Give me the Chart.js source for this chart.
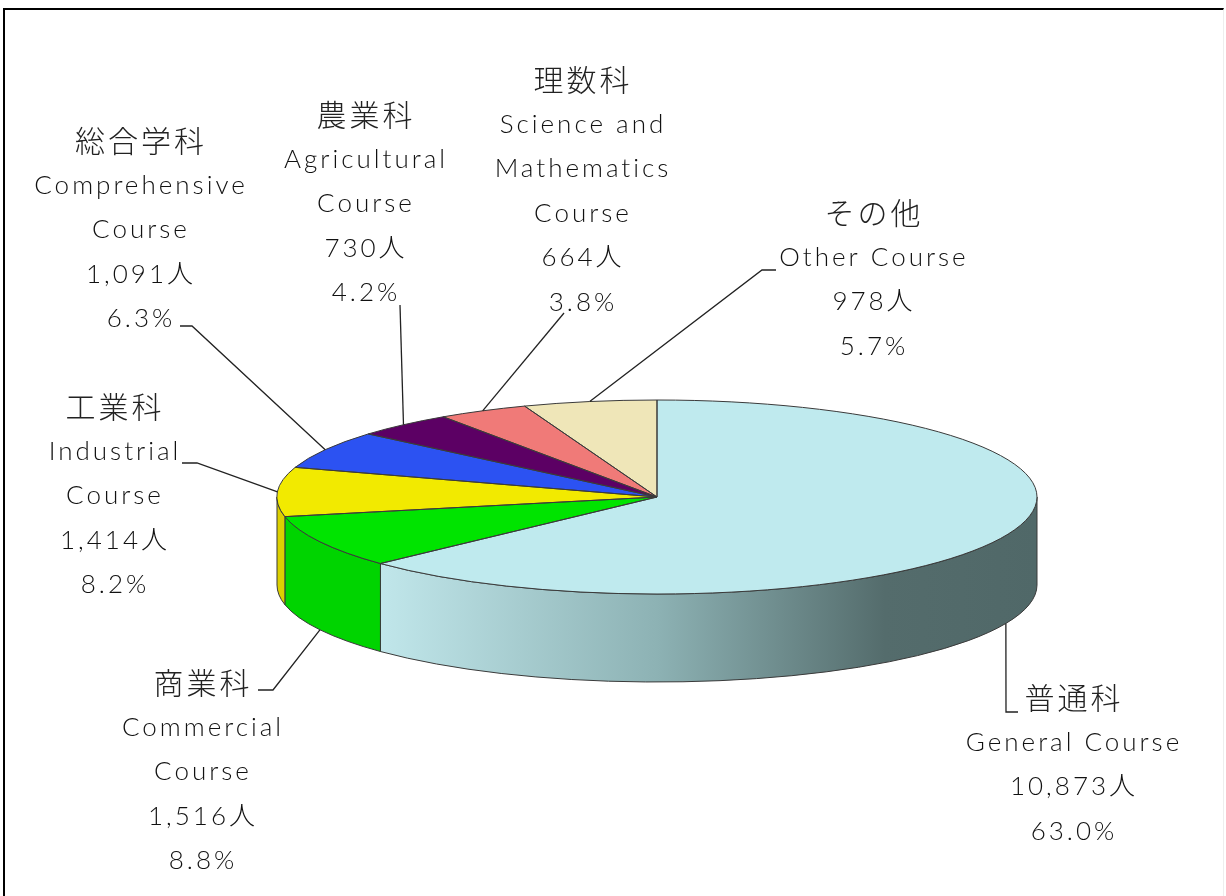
<!DOCTYPE html>
<html>
<head>
<meta charset="utf-8">
<script src="https://cdn.jsdelivr.net/npm/chart.js@4.4.0/dist/chart.umd.min.js"></script>
<style>
  body { margin: 0; background: #fff; overflow: hidden; }
  #frame { position: absolute; left: 3px; top: 8px; width: 1218px; height: 1100px;
           border-top: 2px solid #000; border-left: 2px solid #000; border-right: 1px solid #eee; }
  #chart { position: absolute; left: 0; top: 0; }
</style>
</head>
<body>
<div id="frame"></div>
<canvas id="chart" width="1226" height="896"></canvas>
<script>
// data, clockwise from 12 o'clock
const categoriesJa = ["普通科", "商業科", "工業科", "総合学科", "農業科", "理数科", "その他"];
const categoriesEn = [
  ["General Course"],
  ["Commercial", "Course"],
  ["Industrial", "Course"],
  ["Comprehensive", "Course"],
  ["Agricultural", "Course"],
  ["Science and", "Mathematics", "Course"],
  ["Other Course"]
];
const students = [10873, 1516, 1414, 1091, 730, 664, 978];

// styles
const topColors = ["#bfeaee", "#00e400", "#f2ea00", "#2c52f2", "#5c0064", "#f07a78", "#efe6b8"];
const sideColors = [null, "#00d400", "#dcd000", "#2040d0", "#4a0050", "#d06060", "#d8d0a0"];

// layout: label block (center x, first line y) and leader bend points
const labelPos = [[1074, 698], [203, 683], [115, 407], [141, 141], [366, 115], [583, 80], [874, 213]];
const leaderPts = [
  [[1006, 712], [1018, 712]],
  [[273, 690], [258, 690]],
  [[197, 463], [182, 463]],
  [[192, 326], [180, 326]],
  [[400, 305]],
  [[564, 313]],
  [[762, 270], [776, 270]]
];
const LINE_GAP = 44.5;
const CENTER_Y = 497;
const TILT = 97 / 380;
const DEPTH = 88;

const total = students.reduce((a, b) => a + b, 0);

const pie3d = {
  id: "pie3d",
  beforeDatasetsDraw(chart) {
    const ctx = chart.ctx;
    const arcs = chart.getDatasetMeta(0).data;
    const cx = arcs[0].x, r = arcs[0].outerRadius, ry = r * TILT;

    // side walls (front half only)
    arcs.forEach((arc, i) => {
      const s = Math.max(arc.startAngle, 0);
      const e = Math.min(arc.endAngle, Math.PI);
      if (e <= s) return;
      ctx.beginPath();
      ctx.ellipse(cx, CENTER_Y, r, ry, 0, s, e);
      ctx.lineTo(cx + r * Math.cos(e), CENTER_Y + DEPTH + ry * Math.sin(e));
      ctx.ellipse(cx, CENTER_Y + DEPTH, r, ry, 0, e, s, true);
      ctx.closePath();
      if (i === 0) {
        const g = ctx.createLinearGradient(cx - r, 0, cx + r, 0);
        g.addColorStop(0, "#c8ecee");
        g.addColorStop(0.14, "#c0e6ea");
        g.addColorStop(0.5, "#8db2b4");
        g.addColorStop(0.8, "#546c6c");
        g.addColorStop(1, "#506868");
        ctx.fillStyle = g;
      } else {
        ctx.fillStyle = sideColors[i];
      }
      ctx.fill();
      ctx.strokeStyle = "#3a3a3a";
      ctx.lineWidth = 1;
      ctx.stroke();
    });

    // squash the pie top into an ellipse
    ctx.save();
    ctx.translate(cx, CENTER_Y);
    ctx.scale(1, TILT);
    ctx.translate(-cx, -arcs[0].y);
  },
  afterDatasetsDraw(chart) {
    const ctx = chart.ctx;
    ctx.restore();
    const arcs = chart.getDatasetMeta(0).data;
    const cx = arcs[0].x, r = arcs[0].outerRadius, ry = r * TILT;

    // slice outlines
    ctx.strokeStyle = "#3a3a3a";
    ctx.lineWidth = 1;
    arcs.forEach(arc => {
      ctx.beginPath();
      ctx.moveTo(cx, CENTER_Y);
      ctx.ellipse(cx, CENTER_Y, r, ry, 0, arc.startAngle, arc.endAngle);
      ctx.closePath();
      ctx.stroke();
    });

    // leader lines
    ctx.strokeStyle = "#222";
    ctx.lineWidth = 1.3;
    arcs.forEach((arc, i) => {
      const mid = (arc.startAngle + arc.endAngle) / 2;
      const ax = cx + r * Math.cos(mid);
      let ay = CENTER_Y + ry * Math.sin(mid);
      if (Math.sin(mid) > 0) ay += DEPTH;
      ctx.beginPath();
      ctx.moveTo(ax, ay);
      leaderPts[i].forEach(p => ctx.lineTo(p[0], p[1]));
      ctx.stroke();
    });

    // labels
    ctx.textAlign = "center";
    ctx.textBaseline = "middle";
    arcs.forEach((arc, i) => {
      const [lx, ly] = labelPos[i];
      const lines = [categoriesJa[i], ...categoriesEn[i],
        students[i].toLocaleString("en-US") + "人",
        (students[i] / total * 100).toFixed(1) + "%"];
      lines.forEach((t, k) => {
        if (k === 0) {
          ctx.font = '300 30px "Noto Sans CJK JP"';
          ctx.letterSpacing = "3px";
          ctx.fillStyle = "#222";
        } else {
          ctx.font = '300 26px Lato, "Noto Sans CJK JP"';
          ctx.letterSpacing = "3px";
          ctx.fillStyle = "#111";
        }
        ctx.fillText(t, lx, ly + k * LINE_GAP);
      });
    });
    ctx.letterSpacing = "0px";
  }
};

new Chart(document.getElementById("chart"), {
  type: "pie",
  data: {
    labels: categoriesJa,
    datasets: [{
      data: students,
      backgroundColor: topColors,
      borderWidth: 0,
      hoverOffset: 0
    }]
  },
  options: {
    responsive: false,
    animation: false,
    layout: { padding: { left: 277, right: 189, top: 0, bottom: 0 } },
    plugins: { legend: { display: false }, tooltip: { enabled: false } }
  },
  plugins: [pie3d]
});
</script>
</body>
</html>
